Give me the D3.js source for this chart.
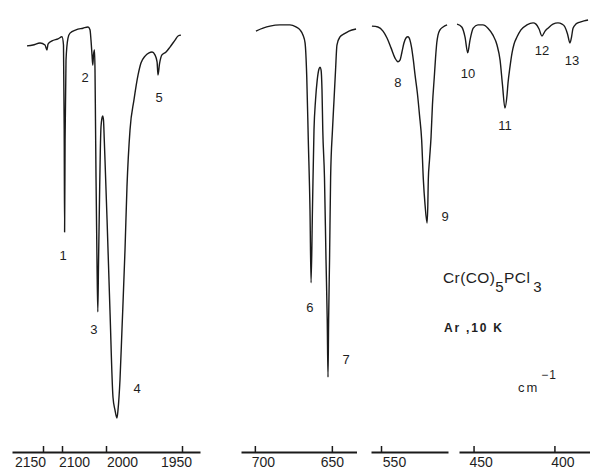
<!DOCTYPE html>
<html>
<head>
<meta charset="utf-8">
<script src="https://cdn.jsdelivr.net/npm/d3@7/dist/d3.min.js"></script>
<style>
  body { margin: 0; background: #fff; }
  svg { display: block; }
  text { font-family: "Liberation Sans", Arial, Helvetica, sans-serif; fill: #1e1e1e; }
</style>
</head>
<body>
<svg id="chart" width="590" height="470"></svg>
<script>
// ---- IR spectrum of Cr(CO)5PCl3 in an Ar matrix at 10 K ----
// Wavenumbers in cm-1, transmittance in %.

// ν(CO) region
const wnCO = [2191.3, 2175.8, 2157.7, 2144.7, 2139.5, 2136.8, 2126.3, 2110.5, 2100.0, 2096.6,
  2095.0, 2094.1, 2093.0, 2090.9, 2086.4, 2081.8, 2068.2, 2052.3, 2040.9, 2036.4,
  2034.1, 2031.8, 2030.0, 2028.4, 2026.1, 2025.0, 2023.9, 2022.7, 2020.4, 2018.6,
  2017.0, 2014.8, 2012.9, 2011.4, 2009.1, 2007.5, 2005.7, 2003.9, 2002.3, 1999.3,
  1997.4, 1995.4, 1994.1, 1992.8, 1992.1, 1990.8, 1989.5, 1987.5, 1986.2, 1984.2,
  1981.6, 1978.9, 1977.0, 1974.3, 1971.7, 1969.7, 1967.8, 1966.4, 1965.8, 1964.8,
  1963.2, 1960.5, 1957.9, 1954.6, 1952.6, 1950.7];
const tCO = [93.7, 93.9, 94.4, 93.9, 92.7, 94.1, 94.9, 95.4, 95.9, 93.9,
  73.2, 48.3, 70.7, 90.2, 95.6, 96.8, 97.6, 98.0, 98.3, 97.6,
  95.1, 91.5, 89.0, 91.5, 92.7, 87.8, 75.6, 61.7, 40.7, 28.8,
  40.7, 56.1, 68.3, 73.9, 76.1, 76.6, 75.6, 70.7, 65.9, 51.2,
  29.3, 8.0, 4.9, 2.9, 4.9, 12.2, 24.4, 43.9, 59.3, 73.2,
  80.5, 86.6, 89.5, 91.2, 92.0, 92.2, 91.5, 89.8, 86.6, 89.3,
  91.5, 92.2, 93.4, 95.1, 96.1, 96.3];

// δ(MCO) region
const wnMCO = [699.3, 694.7, 690.2, 683.7, 677.2, 673.3, 670.7, 668.7, 667.4, 666.3,
  665.3, 664.2, 663.5, 662.6, 661.6, 660.6, 659.5, 658.4, 657.7, 657.0,
  656.4, 655.9, 654.8, 653.8, 653.0, 652.5, 652.1, 651.5, 650.8, 649.6,
  648.6, 647.6, 646.7, 644.7, 642.1, 638.9, 634.3];
const tMCO = [97.3, 98.0, 98.5, 98.8, 98.8, 98.3, 97.6, 96.3, 94.4, 86.1,
  70.7, 53.7, 35.9, 53.7, 73.2, 80.5, 85.4, 88.0, 88.5, 87.8,
  82.9, 73.2, 61.7, 41.5, 26.8, 12.9, 26.8, 41.5, 61.7, 73.2,
  80.5, 87.8, 93.9, 95.9, 96.6, 97.3, 97.8];

// 560–505 cm-1 region
const wnMid = [555.9, 552.0, 548.7, 546.1, 543.5, 540.9, 539.0, 537.7, 536.4, 535.1,
  533.8, 532.5, 531.2, 530.2, 529.0, 527.9, 526.4, 525.0, 523.6, 522.5,
  521.4, 520.1, 519.6, 519.3, 518.5, 517.5, 516.6, 515.4, 514.6, 513.8,
  513.0, 511.7, 509.7, 507.1];
const tMid = [98.5, 98.3, 97.3, 95.6, 93.2, 90.7, 89.8, 90.2, 92.2, 94.4,
  95.6, 95.9, 95.1, 93.4, 90.2, 86.6, 82.2, 76.8, 70.7, 61.0,
  54.9, 50.5, 54.9, 61.0, 65.9, 71.5, 79.3, 86.1, 90.7, 94.4,
  96.3, 97.6, 98.3, 98.8];

// 460–378 cm-1 region
const wnLow = [460.2, 457.3, 455.3, 453.6, 452.2, 450.2, 447.3, 444.2, 441.1, 438.0,
  435.5, 433.6, 432.1, 430.6, 429.3, 428.7, 427.5, 426.2, 425.0, 423.1,
  420.7, 417.0, 413.2, 411.4, 409.5, 407.7, 405.8, 404.0, 400.9, 397.8,
  395.3, 393.5, 391.9, 390.4, 389.4, 388.5, 386.7, 384.2, 381.7, 379.2];
const tLow = [99.0, 98.3, 95.9, 92.0, 95.1, 98.0, 98.8, 98.8, 98.0, 96.3,
  93.9, 90.2, 84.1, 78.5, 81.7, 84.6, 88.5, 92.0, 94.1, 95.9,
  97.6, 98.8, 99.3, 99.0, 97.8, 96.1, 97.3, 98.0, 99.0, 99.3,
  99.0, 98.3, 96.6, 94.4, 95.9, 98.0, 99.0, 99.5, 99.8, 100.0];

// Axis tick labels for each segment of the broken axis
const ticksCO = [2150, 2100, 2000, 1950];
const ticksMCO = [700, 650];
const ticksMid = [550];
const ticksLow = [450, 400];

// Band numbering: label, wavenumber and transmittance of the label anchor
const bandIds = ["1", "2", "3", "4", "5", "6", "7", "8", "9", "10", "11", "12", "13"];
const bandWn = [2097.7, 2047.7, 2027.3, 1979.6, 1965.1, 664.2, 640.8, 539.0, 508.4, 453.4, 430.6, 407.7, 389.1];
const bandT = [42.7, 86.1, 24.6, 10.2, 81.2, 30.0, 17.3, 84.9, 52.0, 87.1, 74.4, 92.7, 90.2];

// ---- layout ----
const svg = d3.select("#chart");
const axisY = 452;
const y = d3.scaleLinear().domain([0, 100]).range([430, 20]);

const panels = [
  { wn: wnCO, t: tCO, ticks: ticksCO,
    x: d3.scaleLinear().domain([2230, 2150, 2100, 2000, 1950, 1938]).range([12, 43, 62, 106, 182, 200]) },
  { wn: wnMCO, t: tMCO, ticks: ticksMCO,
    x: d3.scaleLinear().domain([709, 634]).range([241, 356.5]) },
  { wn: wnMid, t: tMid, ticks: ticksMid,
    x: d3.scaleLinear().domain([556.5, 506.5]).range([371, 448]) },
  { wn: wnLow, t: tLow, ticks: ticksLow,
    x: d3.scaleLinear().domain([459, 378]).range([459, 590]) }
];

// horizontal shift of individual tick labels relative to their tick
const labelShift = { 2150: -13, 2100: 12, 2000: 16, 1950: -6, 700: 8, 650: 0, 550: 13, 450: 7, 400: 8 };

panels.forEach(p => {
  const pts = p.wn.map((w, i) => [w, p.t[i]]);
  const line = d3.line()
    .x(d => p.x(d[0]))
    .y(d => y(d[1]))
    .curve(d3.curveMonotoneX);
  svg.append("path")
    .datum(pts)
    .attr("d", line)
    .attr("fill", "none")
    .attr("stroke", "#1a1a1a")
    .attr("stroke-width", 1.4)
    .attr("stroke-linejoin", "round");

  const ax = svg.append("g")
    .attr("transform", `translate(0,${axisY})`)
    .call(d3.axisBottom(p.x).tickValues(p.ticks).tickSizeInner(-6).tickSizeOuter(0).tickPadding(5).tickFormat(d3.format("d")));
  ax.select(".domain").attr("stroke", "#1a1a1a").attr("stroke-width", 2);
  ax.selectAll(".tick line").attr("stroke", "#1a1a1a").attr("stroke-width", 1.5);
  ax.selectAll(".tick text")
    .attr("font-size", 14)
    .attr("font-family", "'Liberation Sans', Arial, sans-serif")
    .attr("fill", "#1e1e1e")
    .attr("dx", d => labelShift[d] || 0);
});

// band numbers
const inPanel = w => panels.find(p => {
  const [a, b] = d3.extent(p.x.domain());
  return w >= a && w <= b;
});
svg.append("g").selectAll("text")
  .data(bandIds)
  .join("text")
  .attr("x", (d, i) => inPanel(bandWn[i]).x(bandWn[i]))
  .attr("y", (d, i) => y(bandT[i]))
  .attr("dy", "0.36em")
  .attr("text-anchor", "middle")
  .attr("font-size", 13)
  .text(d => d);

// compound and conditions
const title = svg.append("text").attr("x", 443).attr("y", 283).attr("font-size", 15.5).attr("letter-spacing", 0.4);
title.append("tspan").text("Cr(CO)");
title.append("tspan").attr("dy", 9).attr("font-size", 15).text("5");
title.append("tspan").attr("dy", -9).text("PCl");
title.append("tspan").attr("dy", 9).attr("dx", 3).attr("font-size", 15).text("3");

svg.append("text").attr("x", 444).attr("y", 332).attr("font-size", 12)
  .attr("font-weight", "bold").attr("letter-spacing", 1.8).text("Ar ,10 K");

const unit = svg.append("text").attr("x", 518).attr("y", 392).attr("font-size", 13).attr("letter-spacing", 2);
unit.append("tspan").text("cm");
unit.append("tspan").attr("dy", -13).attr("dx", 2).attr("font-size", 12).attr("letter-spacing", 1).text("−1");
</script>
</body>
</html>
